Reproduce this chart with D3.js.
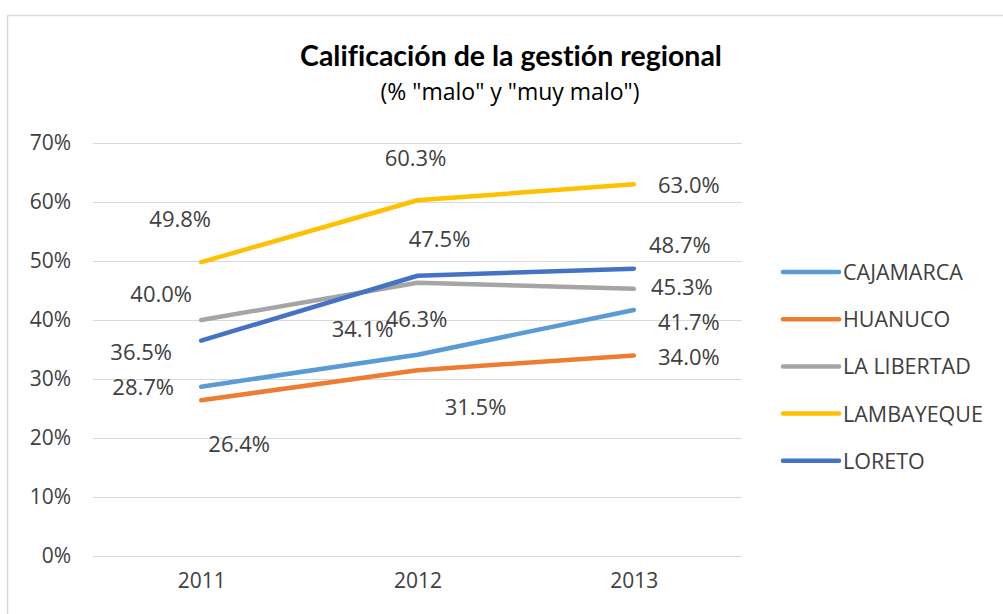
<!DOCTYPE html>
<html>
<head>
<meta charset="utf-8">
<script src="https://cdn.jsdelivr.net/npm/d3@7"></script>
<style>
  body { margin: 0; background: #fff; }
  text { font-family: "Open Sans", "Noto Sans", sans-serif; fill: #404040; }
  .title { font-family: Lato, "Open Sans", sans-serif; font-weight: bold; fill: #000;
           font-variant-ligatures: none; }
  .grid line { stroke: #d9d9d9; stroke-width: 1; }
</style>
</head>
<body>
<div id="chart"></div>
<script>
// data
var years = ["2011", "2012", "2013"];
var regions = ["CAJAMARCA", "HUANUCO", "LA LIBERTAD", "LAMBAYEQUE", "LORETO"];
var cajamarca = [28.7, 34.1, 41.7];
var huanuco = [26.4, 31.5, 34.0];
var laLibertad = [40.0, 46.3, 45.3];
var lambayeque = [49.8, 60.3, 63.0];
var loreto = [36.5, 47.5, 48.7];
var yTicks = [0, 10, 20, 30, 40, 50, 60, 70];

var colors = ["#5B9BD5", "#ED7D31", "#A5A5A5", "#FFC000", "#4472C4"];
var series = [cajamarca, huanuco, laLibertad, lambayeque, loreto];

// label offsets (dx, dy) from each point, as placed in the original
var labelOffsets = [
  [[-58, 8], [-55, -18], [55, 20]],
  [[38, 52], [58, 45], [55, 10]],
  [[-40, -18], [-1, 44], [48, 6]],
  [[-21, -35], [-2, -34], [55, 9]],
  [[-60, 19], [22, -29], [46, -16]]
];

var W = 1003, H = 614;
var margin = { top: 143, left: 93, right: 261, bottom: 58 };
var width = W - margin.left - margin.right,
    height = H - margin.top - margin.bottom;

var svg = d3.select("#chart").append("svg")
    .attr("width", W)
    .attr("height", H);

// chart border
svg.append("rect")
    .attr("x", 7.5).attr("y", 15.5)
    .attr("width", W).attr("height", H)
    .attr("fill", "none")
    .attr("stroke", "#d9d9d9")
    .attr("stroke-width", 1.5);

// titles
svg.append("text")
    .attr("class", "title")
    .attr("x", 511).attr("y", 66)
    .attr("text-anchor", "middle")
    .style("font-size", "28.5px")
    .text("Calificación de la gestión regional");
svg.append("text")
    .attr("x", 510).attr("y", 100)
    .attr("text-anchor", "middle")
    .style("font-size", "23px")
    .style("fill", "#000")
    .text("(% \"malo\" y \"muy malo\")");

var g = svg.append("g")
    .attr("transform", "translate(" + margin.left + "," + margin.top + ")");

var x = d3.scalePoint().domain(years).range([0, width]).padding(0.5);
var y = d3.scaleLinear().domain([0, 70]).range([height, 0]);

// gridlines
g.append("g").attr("class", "grid")
    .selectAll("line")
    .data(yTicks)
    .enter().append("line")
    .attr("x1", 0).attr("x2", width)
    .attr("y1", function (d) { return Math.round(y(d)) + 0.5; })
    .attr("y2", function (d) { return Math.round(y(d)) + 0.5; });

// y axis labels
var yAxis = g.append("g")
    .call(d3.axisLeft(y).tickValues(yTicks).tickSize(0).tickPadding(22)
        .tickFormat(function (d) { return d + "%"; }));
yAxis.select(".domain").remove();
yAxis.selectAll("text").style("font-size", "21px").style("fill", "#404040")
    .attr("font-family", null);

// x axis labels
var xAxis = g.append("g")
    .attr("transform", "translate(0," + height + ")")
    .call(d3.axisBottom(x).tickSize(0).tickPadding(17));
xAxis.select(".domain").remove();
xAxis.selectAll("text").style("font-size", "21px").style("fill", "#404040")
    .attr("font-family", null);

// lines
var line = d3.line()
    .x(function (d, i) { return x(years[i]); })
    .y(function (d) { return y(d); });

series.forEach(function (s, k) {
    g.append("path")
        .datum(s)
        .attr("fill", "none")
        .attr("stroke", colors[k])
        .attr("stroke-width", 4.5)
        .attr("stroke-linecap", "round")
        .attr("stroke-linejoin", "round")
        .attr("d", line);
});

// data labels
series.forEach(function (s, k) {
    g.selectAll(null)
        .data(s)
        .enter().append("text")
        .attr("x", function (d, i) { return x(years[i]) + labelOffsets[k][i][0]; })
        .attr("y", function (d, i) { return y(d) + labelOffsets[k][i][1]; })
        .attr("text-anchor", "middle")
        .style("font-size", "22px")
        .text(function (d) { return d.toFixed(1) + "%"; });
});

// legend
var legend = svg.append("g")
    .attr("transform", "translate(783,272)");
var item = legend.selectAll("g")
    .data(regions)
    .enter().append("g")
    .attr("transform", function (d, i) { return "translate(0," + (i * 47.2) + ")"; });
item.append("line")
    .attr("x1", 0).attr("x2", 56)
    .attr("stroke", function (d, i) { return colors[i]; })
    .attr("stroke-width", 4.5)
    .attr("stroke-linecap", "round");
item.append("text")
    .attr("x", 60).attr("y", 8)
    .style("font-size", "21.5px")
    .text(function (d) { return d; });
</script>
</body>
</html>
